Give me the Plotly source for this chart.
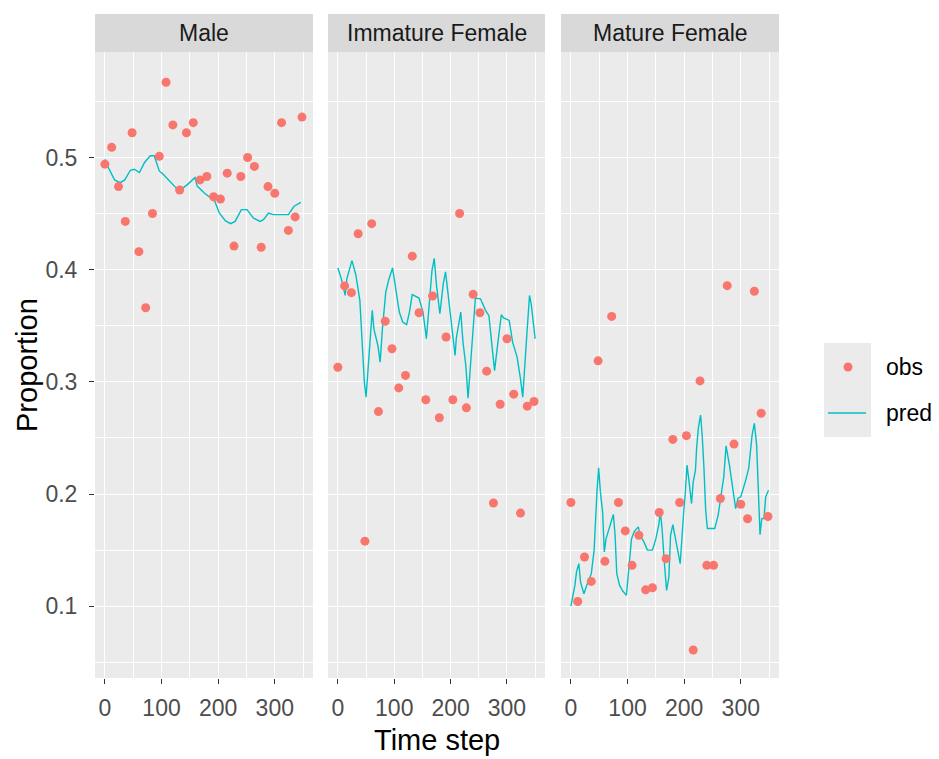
import plotly.graph_objects as go

W, H = 939, 759

panels = ["Male", "Immature Female", "Mature Female"]

obs_time = [0, 12, 24, 36, 48, 60, 72, 84, 96, 108, 120, 132, 144, 156, 168,
            180, 192, 204, 216, 228, 240, 252, 264, 276, 288, 300, 312, 324, 336, 348]

male_obs = [0.494, 0.509, 0.474, 0.443, 0.522, 0.416, 0.366, 0.450, 0.501, 0.567,
            0.529, 0.471, 0.522, 0.531, 0.480, 0.483, 0.465, 0.463, 0.486, 0.421,
            0.483, 0.500, 0.492, 0.420, 0.474, 0.468, 0.531, 0.435, 0.447, 0.536]

imm_obs = [0.313, 0.3855, 0.3795, 0.432, 0.158, 0.441, 0.2735, 0.354, 0.3295, 0.2946,
           0.3057, 0.412, 0.3616, 0.284, 0.3765, 0.268, 0.340, 0.284, 0.450, 0.2768,
           0.378, 0.3616, 0.3095, 0.192, 0.280, 0.3384, 0.289, 0.183, 0.2783, 0.2825]

mat_obs = [0.1924, 0.1042, 0.1439, 0.1221, 0.3187, 0.140, 0.3583, 0.1924, 0.1671, 0.1364,
           0.1632, 0.1146, 0.1164, 0.1835, 0.1424, 0.2487, 0.1924, 0.252, 0.061, 0.3008,
           0.1364, 0.1364, 0.196, 0.3857, 0.2445, 0.1909, 0.178, 0.3807, 0.272, 0.180]

male_pred_t = [0, 6, 17, 27, 35, 45, 52, 61, 70, 80, 87, 96, 103, 117, 131, 146, 159, 163,
               175, 194, 202, 213, 222, 230, 241, 251, 262, 274, 280, 289, 297, 324, 334, 346]
male_pred = [0.4985, 0.491, 0.480, 0.4775, 0.480, 0.4886, 0.4895, 0.4865, 0.4955, 0.5015,
             0.5015, 0.488, 0.485, 0.4775, 0.470, 0.476, 0.482, 0.4745, 0.4685, 0.461,
             0.4505, 0.4435, 0.441, 0.443, 0.4535, 0.4535, 0.446, 0.443, 0.4445, 0.4505,
             0.449, 0.449, 0.4565, 0.460]

imm_pred_t = [0, 6, 13, 16, 25, 32, 39, 42, 47, 50, 55, 61, 64, 71, 75, 79, 85, 90, 97,
              102, 109, 115, 122, 127, 132, 144, 151, 155, 157, 161, 167, 171, 175, 181,
              187, 191, 196, 202, 208, 210, 218, 222, 227, 231, 237, 241, 244, 253, 262,
              268, 273, 278, 284, 290, 294, 304, 310, 318, 324, 328, 334, 337, 340, 343,
              347, 350]
imm_pred = [0.4015, 0.392, 0.377, 0.392, 0.408, 0.395, 0.3726, 0.347, 0.2997, 0.2863,
            0.3235, 0.3637, 0.347, 0.3324, 0.3176, 0.347, 0.380, 0.3905, 0.4015, 0.386,
            0.3622, 0.3533, 0.351, 0.3622, 0.3777, 0.3747, 0.3622, 0.347, 0.3384, 0.3622,
            0.3994, 0.410, 0.386, 0.3607, 0.3875, 0.398, 0.377, 0.347, 0.3235, 0.3384,
            0.3622, 0.3354, 0.3146, 0.2854, 0.3295, 0.359, 0.3747, 0.374, 0.3637, 0.359,
            0.3354, 0.310, 0.3354, 0.3598, 0.3569, 0.3547, 0.3354, 0.322, 0.3027, 0.2863,
            0.3324, 0.3607, 0.377, 0.3696, 0.351, 0.3384]

mat_pred_t = [0, 7, 10, 14, 17, 23, 30, 36, 41, 43, 46, 49, 52, 56, 59, 62, 66, 71, 75,
              78, 81, 86, 91, 98, 103, 107, 112, 119, 122, 129, 135, 144, 150, 155, 158,
              161, 165, 169, 173, 176, 180, 184, 188, 193, 196, 199, 202, 205, 208, 213,
              216, 220, 222, 225, 229, 232, 235, 238, 241, 254, 260, 266, 270, 274, 277,
              280, 285, 291, 295, 300, 308, 314, 320, 324, 328, 331, 334, 337, 341, 344, 349]
mat_pred = [0.100, 0.1185, 0.131, 0.1379, 0.1215, 0.1111, 0.1215, 0.129, 0.150, 0.1781,
            0.2021, 0.2234, 0.2021, 0.184, 0.1483, 0.160, 0.1667, 0.1752, 0.1817, 0.1632,
            0.129, 0.1185, 0.114, 0.1096, 0.1364, 0.160, 0.1667, 0.1707, 0.1632, 0.1573,
            0.150, 0.150, 0.160, 0.1721, 0.184, 0.1692, 0.139, 0.114, 0.126, 0.1632,
            0.1727, 0.160, 0.1513, 0.1379, 0.1662, 0.1826, 0.2009, 0.2257, 0.2139, 0.1915,
            0.2109, 0.2213, 0.2407, 0.2585, 0.2704, 0.2511, 0.2228, 0.1855, 0.1692, 0.1692,
            0.181, 0.202, 0.2154, 0.243, 0.2347, 0.2257, 0.2079, 0.187, 0.196, 0.1975,
            0.211, 0.2228, 0.2525, 0.263, 0.2436, 0.205, 0.1638, 0.1781, 0.1781, 0.1975,
            0.2034]

obs_series = [male_obs, imm_obs, mat_obs]
pred_t_series = [male_pred_t, imm_pred_t, mat_pred_t]
pred_series = [male_pred, imm_pred, mat_pred]

OBS_COL = "#F8766D"
PRED_COL = "#00BFC4"
PANEL_BG = "#EBEBEB"
STRIP_BG = "#D9D9D9"
FONT = "Liberation Sans, Arial, sans-serif"

# pixel layout
px_x = [(95, 313), (328, 545), (561, 779)]
plot_top, plot_bot = 52, 678
strip_top = 14


def fx(p):
    return p / W


def fy(p):
    return 1 - p / H


fig = go.Figure()

for i in range(3):
    xa = "x" if i == 0 else f"x{i+1}"
    ya = "y" if i == 0 else f"y{i+1}"
    fig.add_trace(go.Scatter(x=pred_t_series[i], y=pred_series[i], mode="lines",
                             line=dict(color=PRED_COL, width=1.4),
                             xaxis=xa, yaxis=ya, showlegend=False, name="pred"))
    fig.add_trace(go.Scatter(x=obs_time, y=obs_series[i], mode="markers",
                             marker=dict(color=OBS_COL, size=9, line=dict(width=0)),
                             xaxis=xa, yaxis=ya, showlegend=False, name="obs"))

layout = dict(
    width=W, height=H,
    margin=dict(l=0, r=0, t=0, b=0),
    paper_bgcolor="white",
    plot_bgcolor=PANEL_BG,
    font=dict(family=FONT, size=23, color="#4D4D4D"),
    shapes=[], annotations=[],
)

for i in range(3):
    xk = "xaxis" if i == 0 else f"xaxis{i+1}"
    yk = "yaxis" if i == 0 else f"yaxis{i+1}"
    yref = "y" if i == 0 else f"y{i+1}"
    xref = "x" if i == 0 else f"x{i+1}"
    layout[xk] = dict(
        domain=[fx(px_x[i][0]), fx(px_x[i][1])],
        range=[-17.5, 367.5], anchor=yref,
        tick0=0, dtick=100,
        showgrid=True, gridcolor="white", gridwidth=1.4,
        minor=dict(dtick=50, showgrid=True, gridcolor="white", gridwidth=0.6),
        zeroline=False, showline=False,
        ticks="outside", ticklen=5, tickwidth=1, tickcolor="#333333",
        ticklabelstandoff=4,
        tickfont=dict(size=23, color="#4D4D4D", family=FONT),
        automargin=False, fixedrange=True,
    )
    ydict = dict(
        domain=[fy(plot_bot), fy(plot_top)],
        range=[0.036, 0.594], anchor=xref,
        tick0=0, dtick=0.1, tickformat=".1f",
        showgrid=True, gridcolor="white", gridwidth=1.4,
        minor=dict(dtick=0.05, showgrid=True, gridcolor="white", gridwidth=0.6),
        zeroline=False, showline=False,
        automargin=False, fixedrange=True,
    )
    if i == 0:
        ydict.update(ticks="outside", ticklen=5, tickwidth=1, tickcolor="#333333",
                     ticklabelstandoff=7,
                     tickfont=dict(size=23, color="#4D4D4D", family=FONT))
    else:
        ydict.update(matches="y", showticklabels=False, ticks="")
    layout[yk] = ydict

    # strip
    layout["shapes"].append(dict(type="rect", xref="paper", yref="paper",
                                 x0=fx(px_x[i][0]), x1=fx(px_x[i][1]),
                                 y0=fy(plot_top), y1=fy(strip_top),
                                 fillcolor=STRIP_BG, line=dict(width=0), layer="below"))
    layout["annotations"].append(dict(text=panels[i], xref="paper", yref="paper",
                                      x=fx((px_x[i][0] + px_x[i][1]) / 2),
                                      y=fy((plot_top + strip_top) / 2),
                                      showarrow=False, xanchor="center", yanchor="middle",
                                      font=dict(size=23, color="#1A1A1A", family=FONT)))

# axis titles
layout["annotations"].append(dict(text="Proportion", xref="paper", yref="paper",
                                  x=fx(27), y=fy((plot_top + plot_bot) / 2), textangle=-90,
                                  showarrow=False, xanchor="center", yanchor="middle",
                                  font=dict(size=29, color="black", family=FONT)))
layout["annotations"].append(dict(text="Time step", xref="paper", yref="paper",
                                  x=fx((px_x[0][0] + px_x[2][1]) / 2), y=fy(740),
                                  showarrow=False, xanchor="center", yanchor="middle",
                                  font=dict(size=29, color="black", family=FONT)))

# manual legend (ggplot-style keys)
layout["shapes"].append(dict(type="rect", xref="paper", yref="paper",
                             x0=fx(824), x1=fx(871), y0=fy(437), y1=fy(343),
                             fillcolor=PANEL_BG, line=dict(width=0)))
layout["shapes"].append(dict(type="circle", xref="paper", yref="paper",
                             x0=fx(848 - 4.5), x1=fx(848 + 4.5),
                             y0=fy(367 + 4.5), y1=fy(367 - 4.5),
                             fillcolor=OBS_COL, line=dict(width=0)))
layout["shapes"].append(dict(type="line", xref="paper", yref="paper",
                             x0=fx(828), x1=fx(866), y0=fy(413), y1=fy(413),
                             line=dict(color=PRED_COL, width=1.5)))
for txt, yy in [("obs", 367), ("pred", 413)]:
    layout["annotations"].append(dict(text=txt, xref="paper", yref="paper",
                                      x=fx(884), y=fy(yy), showarrow=False,
                                      xanchor="left", yanchor="middle",
                                      font=dict(size=23, color="black", family=FONT)))

fig.update_layout(**layout)
fig.write_html("out.html",
               config={"displayModeBar": False},
               post_script="document.body.style.margin='0px';document.body.style.overflow='hidden';")
